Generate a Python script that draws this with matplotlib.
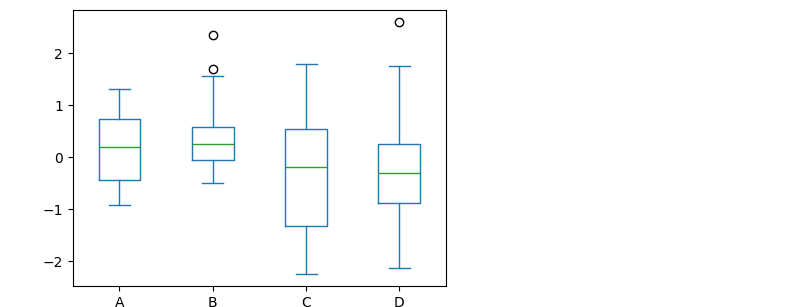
import matplotlib.pyplot as plt

labels = ["A", "B", "C", "D"]
whislo = [-0.92, -0.50, -2.25, -2.13]
q1 = [-0.44, -0.06, -1.33, -0.88]
med = [0.19, 0.25, -0.19, -0.31]
q3 = [0.73, 0.58, 0.54, 0.25]
whishi = [1.31, 1.56, 1.79, 1.75]
fliers = [[], [2.35, 1.69], [], [2.60]]

stats = []
for i in range(len(labels)):
    stats.append(dict(label=labels[i], whislo=whislo[i], q1=q1[i], med=med[i],
                      q3=q3[i], whishi=whishi[i], fliers=fliers[i]))

fig = plt.figure(figsize=(7.92, 3.07), dpi=100)
ax = fig.add_axes([0.092, 0.068, 0.471, 0.899])

blue = "#1f77b4"
ax.bxp(stats,
       boxprops=dict(color=blue),
       whiskerprops=dict(color=blue),
       capprops=dict(color=blue),
       medianprops=dict(color="#2ca02c"),
       flierprops=dict(marker="o", markeredgecolor="black", markerfacecolor="none"))

ax.set_ylim(-2.48, 2.83)
ax.set_yticks([-2, -1, 0, 1, 2])

fig.savefig("out.png", dpi=100)
